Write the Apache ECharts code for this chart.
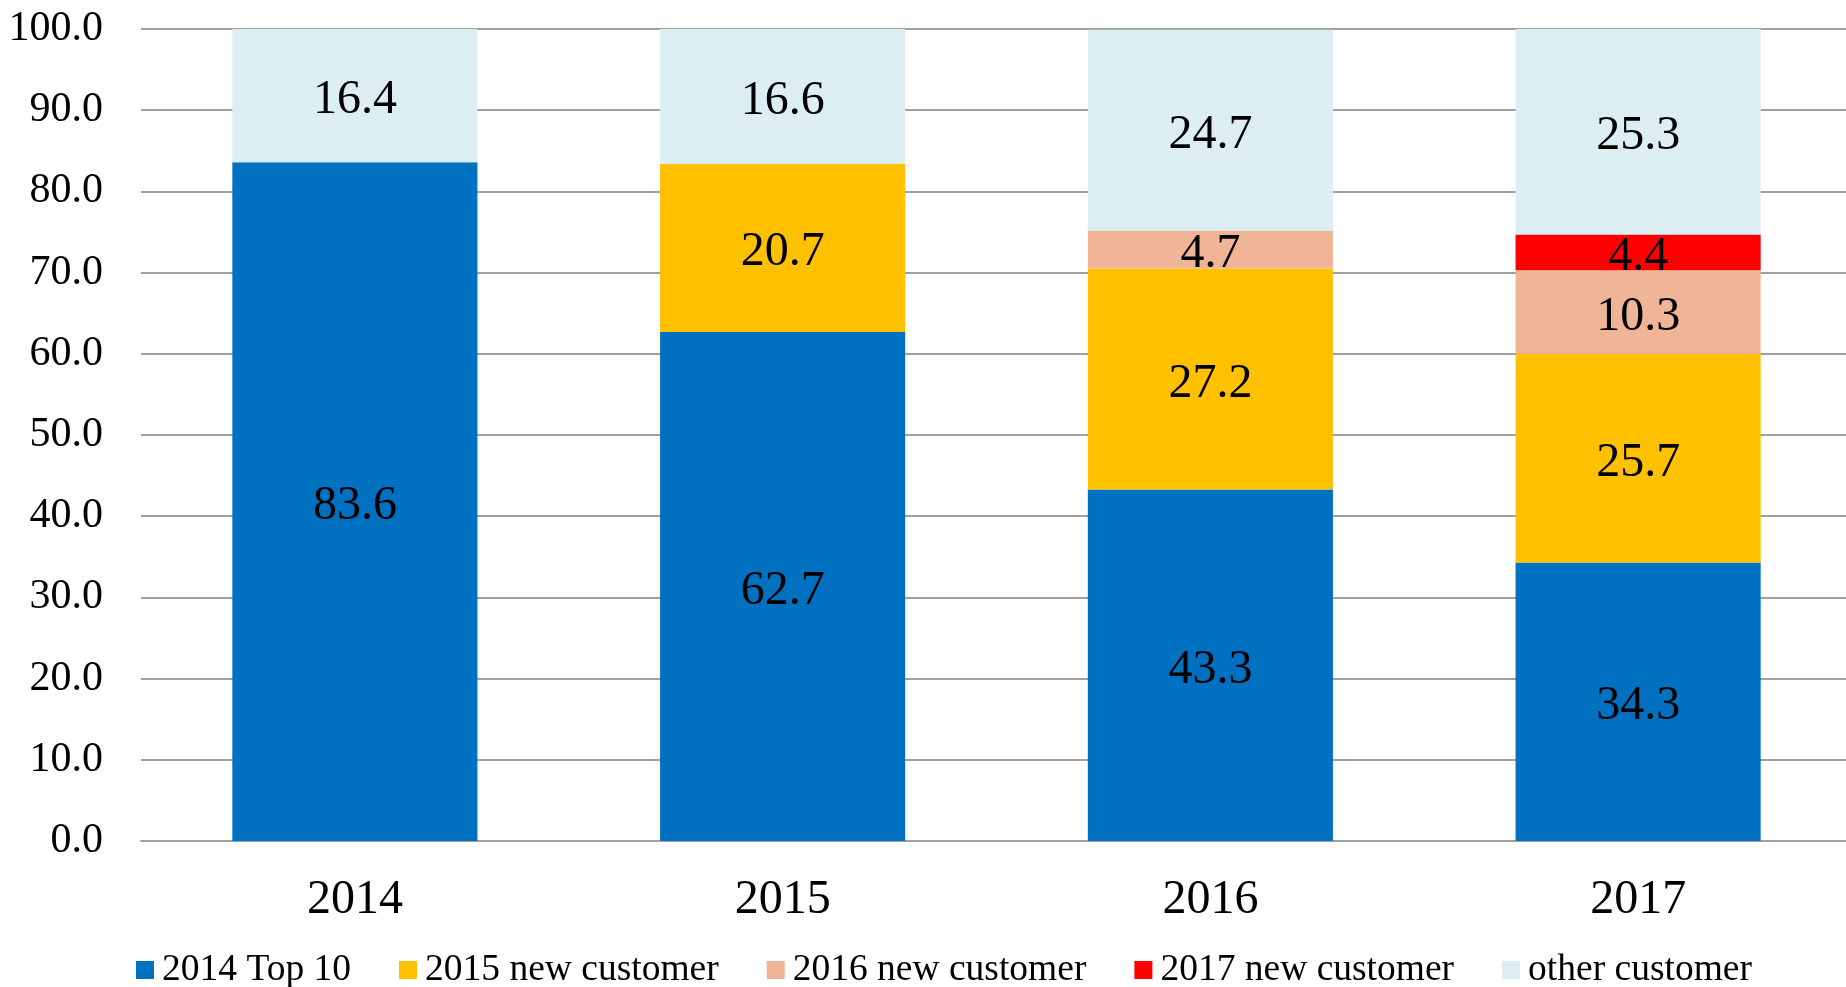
<!DOCTYPE html>
<html>
<head>
<meta charset="utf-8">
<script src="https://cdn.jsdelivr.net/npm/echarts@6/dist/echarts.min.js"></script>
<style>html,body{margin:0;padding:0;background:#fff;overflow:hidden}#c{width:1856px;height:987px}</style>
</head>
<body>
<div id="c"></div>
<script>
const categories = ['2014', '2015', '2016', '2017'];
const seriesNames = ['2014 Top 10', '2015 new customer', '2016 new customer', '2017 new customer', 'other customer'];
const top10 = [83.6, 62.7, 43.3, 34.3];
const new2015 = [null, 20.7, 27.2, 25.7];
const new2016 = [null, null, 4.7, 10.3];
const new2017 = [null, null, null, 4.4];
const other = [16.4, 16.6, 24.7, 25.3];
const yTicks = { min: 0, max: 100, interval: 10 };

const colors = ['#0070C0', '#FFC000', '#F0B496', '#FF0000', '#DDEEF3'];
const values = [top10, new2015, new2016, new2017, other];
const font = '"Liberation Serif", "Times New Roman", serif';

const chart = echarts.init(document.getElementById('c'), null, { renderer: 'canvas' });
chart.setOption({
  animation: false,
  color: colors,
  textStyle: { fontFamily: font },
  grid: { left: 141, width: 1711, top: 29, bottom: 146, containLabel: false },
  legend: {
    left: 131, bottom: -7,
    itemWidth: 18, itemHeight: 18, itemGap: 48,
    icon: 'rect',
    textStyle: { fontFamily: font, fontSize: 37.5, color: '#000', padding: [0, 0, 0, 3] },
    data: seriesNames
  },
  xAxis: {
    type: 'category', data: categories,
    axisLine: { show: true, lineStyle: { color: '#A0A0A0', width: 2 } },
    axisTick: { show: false },
    axisLabel: { fontFamily: font, fontSize: 48, color: '#000', margin: 35 }
  },
  yAxis: {
    type: 'value', min: yTicks.min, max: yTicks.max, interval: yTicks.interval,
    axisLine: { show: false }, axisTick: { show: false },
    splitLine: { lineStyle: { color: '#A0A0A0', width: 2 } },
    axisLabel: { fontFamily: font, fontSize: 42, color: '#000', margin: 38,
      formatter: v => v.toFixed(1) }
  },
  series: seriesNames.map((n, i) => ({
    name: n, type: 'bar', stack: 'total', barWidth: '57.3%',
    data: values[i],
    itemStyle: { color: colors[i] },
    label: { show: true, position: 'inside', fontFamily: font, fontSize: 48, color: '#000',
      offset: [0, 5],
      formatter: p => p.value == null ? '' : p.value.toFixed(1) }
  }))
});
</script>
</body>
</html>
